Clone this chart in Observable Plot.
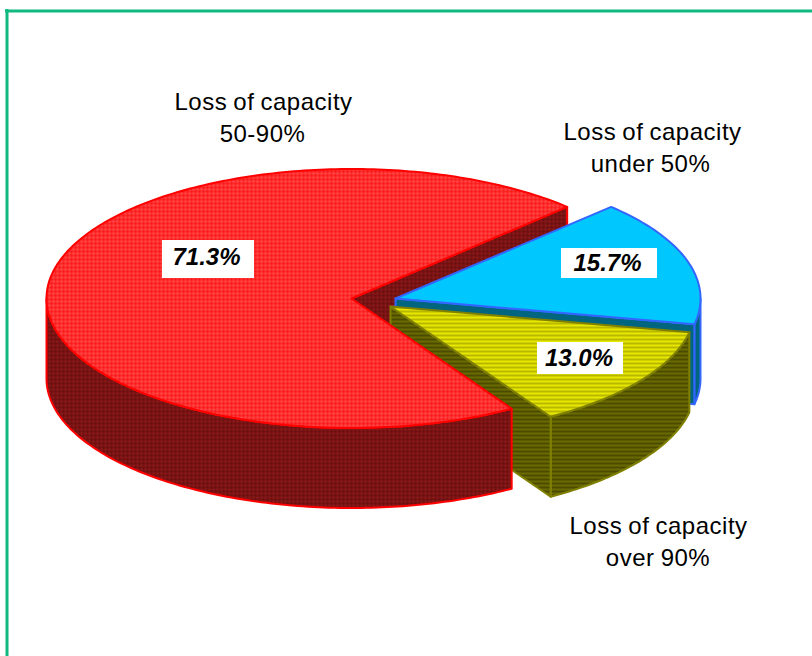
<!DOCTYPE html>
<html>
<head>
<meta charset="utf-8">
<style>html,body{margin:0;padding:0;background:#fff}svg{display:block}</style>
<script src="https://cdn.jsdelivr.net/npm/d3@7"></script>
<script src="https://cdn.jsdelivr.net/npm/@observablehq/plot@0.6"></script>
</head>
<body>
<script>
const categories = ["Loss of capacity under 50%", "Loss of capacity over 90%", "Loss of capacity 50-90%"];
const shares = [15.7, 13.0, 71.3];
const shareLabels = ["15.7%", "13.0%", "71.3%"];
const categoryLines = [["Loss of capacity", "under 50%"], ["Loss of capacity", "over 90%"], ["Loss of capacity", "50-90%"]];

// Pie geometry (px in the 812x656 frame)
const RX = 305, RY = 129.5, DEPTH = 80, START = 45;
const centers = [[395, 298], [390, 306], [351, 298]];
const labelLines = [[[652, 139], [650, 171]], [[658, 533], [657.5, 565]], [[263, 109], [262, 141]]];
const boxes = [[561, 248, 657, 278], [537, 342, 623, 374], [162, 240, 254, 278]];
const shareCenters = [[607, 263], [578.5, 358], [206, 257]];

// clockwise sweep from the start angle
let acc = START;
const spans = shares.map(v => { const a0 = acc; acc -= v * 3.6; return [a0, acc]; });
const pt = (c, a, dz = 0) => {
  const t = a * Math.PI / 180;
  return { x: c[0] + RX * Math.cos(t), y: c[1] - RY * Math.sin(t) + dz };
};
const arc = (c, a0, a1, dz = 0) => {
  const n = Math.max(2, Math.ceil(Math.abs(a1 - a0)));
  return d3.range(n + 1).map(i => pt(c, a0 + (a1 - a0) * i / n, dz));
};
const topFace = (i) => [{ x: centers[i][0], y: centers[i][1] }, ...arc(centers[i], spans[i][0], spans[i][1])];
const outerWall = (i, a0, a1) => [...arc(centers[i], a0, a1), ...arc(centers[i], a1, a0, DEPTH)];
const innerWall = (i, a) => {
  const c = centers[i], p = pt(c, a);
  return [{ x: c[0], y: c[1] }, p, { x: p.x, y: p.y + DEPTH }, { x: c[0], y: c[1] + DEPTH }];
};
const poly = (pts, fill, stroke) => Plot.line(pts, { x: "x", y: "y", curve: "linear-closed", fill, stroke, strokeWidth: 2, strokeLinejoin: "round" });

const defs = () => {
  const d = d3.create("svg:defs");
  const stripes = (id, a, b) => {
    const p = d.append("svg:pattern").attr("id", id).attr("patternUnits", "userSpaceOnUse").attr("width", 4).attr("height", 4);
    p.append("svg:rect").attr("width", 4).attr("height", 4).attr("fill", a);
    p.append("svg:rect").attr("y", 2).attr("width", 4).attr("height", 2).attr("fill", b);
  };
  const dots = (id, a, b, c) => {
    const p = d.append("svg:pattern").attr("id", id).attr("patternUnits", "userSpaceOnUse").attr("width", 4).attr("height", 4);
    p.append("svg:rect").attr("width", 4).attr("height", 4).attr("fill", a);
    p.append("svg:rect").attr("x", 0).attr("y", 0).attr("width", 2).attr("height", 2).attr("fill", b);
    p.append("svg:rect").attr("x", 2).attr("y", 2).attr("width", 2).attr("height", 2).attr("fill", c);
  };
  stripes("yellowTop", "#e8e800", "#b8b800");
  stripes("yellowSide", "#6a6a00", "#4c4c00");
  dots("redTop", "#ff2c2c", "#ff4a4a", "#f81a1a");
  dots("redSide", "#7a1212", "#8c1a1a", "#681010");
  return d.node();
};

const plot = Plot.plot({
  width: 812, height: 656,
  margin: 0,
  x: { domain: [0, 812], range: [0, 812], axis: null },
  y: { domain: [0, 656], range: [0, 656], axis: null },
  style: { background: "#fff", fontFamily: "'Liberation Sans', Arial, sans-serif" },
  marks: [
    defs,
    // frame
    Plot.ruleX([6.5], { y1: 9, y2: 656, stroke: "#10b981", strokeWidth: 3 }),
    Plot.ruleY([10.5], { x1: 5, x2: 812, stroke: "#10b981", strokeWidth: 3 }),
    // red wall behind the gap
    poly(innerWall(2, spans[0][0]), "url(#redSide)", "#ff0000"),
    // blue slice
    poly(outerWall(0, 0, spans[0][1]), "#006680", "#3366ff"),
    poly(innerWall(0, spans[0][1]), "#006680", "#3366ff"),
    poly(topFace(0), "#00c8ff", "#3366ff"),
    // yellow slice
    poly(outerWall(1, spans[1][0], spans[1][1]), "url(#yellowSide)", "#808000"),
    poly(innerWall(1, spans[1][1]), "url(#yellowSide)", "#808000"),
    poly(topFace(1), "url(#yellowTop)", "#808000"),
    // red slice
    poly(outerWall(2, spans[1][1], -180), "url(#redSide)", "#ff0000"),
    poly(topFace(2), "url(#redTop)", "#ff0000"),
    // percent labels
    Plot.rect(boxes, { x1: b => b[0], y1: b => b[1], x2: b => b[2], y2: b => b[3], fill: "#fff" }),
    Plot.text(shareLabels, {
      x: (d, i) => shareCenters[i][0],
      y: (d, i) => shareCenters[i][1],
      text: d => d, fontSize: 24, fontWeight: "bold", fontStyle: "italic", fill: "#000"
    }),
    // category labels
    Plot.text(categoryLines.flatMap((ls, i) => ls.map((t, j) => ({ t, x: labelLines[i][j][0], y: labelLines[i][j][1] }))), {
      x: "x", y: "y", text: "t", fontSize: 24, lineAnchor: "bottom", fill: "#000",
      letterSpacing: "0.5px", wordSpacing: "-1px"
    })
  ]
});
plot.querySelectorAll("text").forEach(t => {
  if (!t.closest("g")?.getAttribute("font-weight")) { t.style.letterSpacing = "0.5px"; t.style.wordSpacing = "-1px"; }
});
document.body.append(plot);
</script>
</body>
</html>
